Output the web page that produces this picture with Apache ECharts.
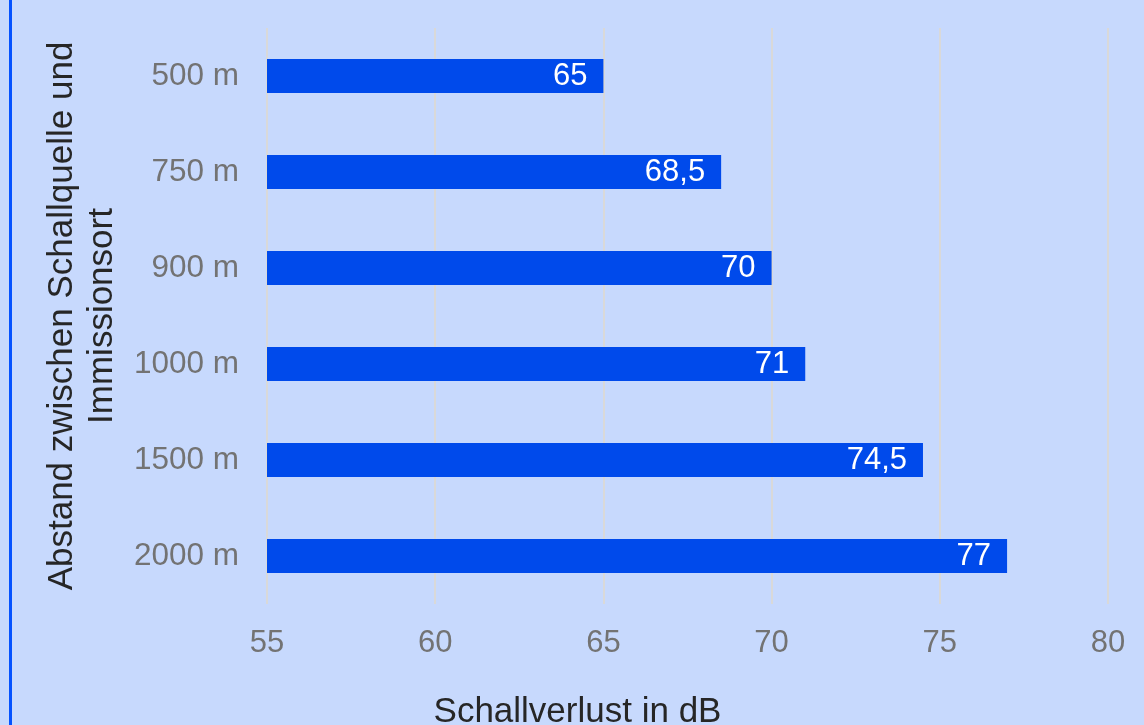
<!DOCTYPE html>
<html>
<head>
<meta charset="utf-8">
<title>Schallverlust</title>
<script src="https://cdn.jsdelivr.net/npm/echarts@6/dist/echarts.min.js"></script>
<style>
  html, body { margin: 0; padding: 0; background: #c7d9fd; }
  #chart { width: 1144px; height: 725px; }
  #edge { position: absolute; left: 9px; top: 0; width: 3px; height: 725px; background: #0452ff; z-index: 10; }
</style>
</head>
<body>
<div id="edge"></div>
<div id="chart"></div>
<script>
// Abstand -> Schallverlust
var distances = ['500 m', '750 m', '900 m', '1000 m', '1500 m', '2000 m'];
var loss = [65, 68.5, 70, 71, 74.5, 77];
var xTicks = [55, 60, 65, 70, 75, 80];

var myChart = echarts.init(document.getElementById('chart'));
var font = 'Liberation Sans, Arial, sans-serif';

var option = {
  backgroundColor: '#c7d9fd',
  animation: false,
  grid: { left: 267, right: 36, top: 28, bottom: 121, outerBoundsMode: 'none', containLabel: false },
  xAxis: {
    type: 'value',
    min: xTicks[0],
    max: xTicks[xTicks.length - 1],
    interval: 5,
    name: 'Schallverlust in dB',
    nameLocation: 'middle',
    nameGap: 91,
    nameTextStyle: { fontFamily: font, fontSize: 35, color: '#262626', padding: [0, 220, 0, 0] },
    axisLine: { show: false },
    axisTick: { show: false },
    axisLabel: { fontFamily: font, fontSize: 31, color: '#737373', margin: 24 },
    splitLine: { lineStyle: { color: '#d9d9d9', width: 2 } }
  },
  yAxis: {
    type: 'category',
    inverse: true,
    data: distances,
    name: 'Abstand zwischen Schallquelle und\nImmissionsort',
    nameLocation: 'middle',
    nameGap: 145,
    nameTextStyle: { fontFamily: font, fontSize: 35, color: '#262626', lineHeight: 40 },
    axisLine: { show: false },
    axisTick: { show: false },
    axisLabel: { fontFamily: font, fontSize: 31.5, color: '#737373', margin: 28 }
  },
  series: [{
    type: 'bar',
    data: loss,
    barWidth: 34,
    itemStyle: { color: '#004aeb' },
    label: {
      show: true,
      position: 'insideRight',
      distance: 16,
      fontFamily: font,
      fontSize: 31,
      color: '#ffffff',
      formatter: function (p) { return String(p.value).replace('.', ','); }
    }
  }]
};
myChart.setOption(option);
window.addEventListener('resize', function () { myChart.resize(); });
</script>
</body>
</html>
